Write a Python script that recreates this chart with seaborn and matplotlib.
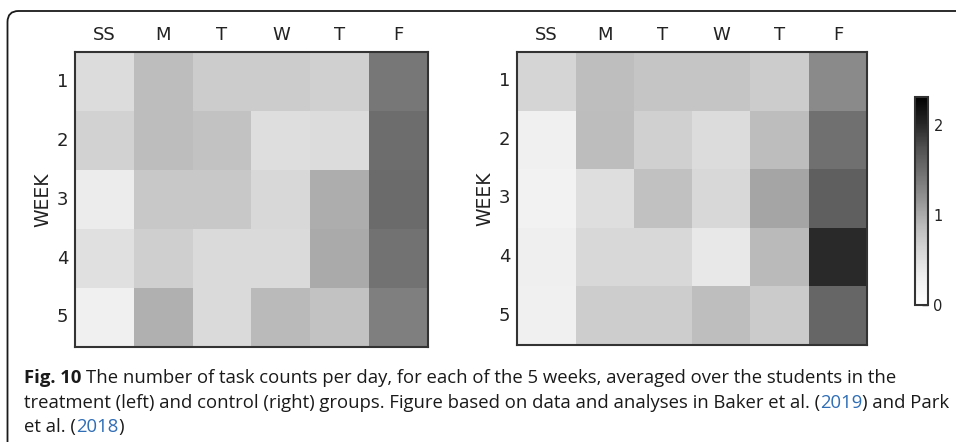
import numpy as np
import matplotlib
matplotlib.use("Agg")
import matplotlib.pyplot as plt
import seaborn as sns
from matplotlib.patches import FancyBboxPatch

# ---- data -------------------------------------------------------------
days = ["SS", "M", "T", "W", "T", "F"]
weeks = [1, 2, 3, 4, 5]

# mean task counts per day (rows: weeks 1-5, columns: days)
treatment_counts = [
    [0.54, 0.87, 0.72, 0.72, 0.67, 1.41],
    [0.65, 0.87, 0.82, 0.52, 0.54, 1.49],
    [0.34, 0.75, 0.75, 0.59, 0.99, 1.51],
    [0.49, 0.68, 0.57, 0.57, 1.01, 1.45],
    [0.29, 0.96, 0.57, 0.89, 0.82, 1.34],
]
control_counts = [
    [0.62, 0.86, 0.79, 0.79, 0.72, 1.25],
    [0.29, 0.87, 0.67, 0.54, 0.87, 1.47],
    [0.25, 0.52, 0.83, 0.59, 1.04, 1.62],
    [0.30, 0.59, 0.59, 0.39, 0.89, 1.99],
    [0.29, 0.70, 0.70, 0.86, 0.73, 1.56],
]
cbar_ticks = [0, 1, 2]
vmin, vmax = 0.0, 2.31

caption_lines = [
    [("Fig. 10", "bold", "#1a1a1a"),
     (" ", "normal", "#1a1a1a"),
     ("The number of task counts per day, for each of the 5 weeks, averaged over the students in the",
      "normal", "#1a1a1a")],
    [("treatment (left) and control (right) groups. Figure based on data and analyses in Baker et al. (",
      "normal", "#1a1a1a"),
     ("2019", "normal", "#2f6db5"),
     (") and Park", "normal", "#1a1a1a")],
    [("et al. (", "normal", "#1a1a1a"),
     ("2018", "normal", "#2f6db5"),
     (")", "normal", "#1a1a1a")],
]

# ---- figure -------------------------------------------------------------
sns.set_style("white")
plt.rcParams["font.family"] = ["DejaVu Sans"]

W, H = 956, 442
fig = plt.figure(figsize=(W / 100, H / 100), dpi=100)

ax_l = fig.add_axes([0.0785, 0.215, 0.369, 0.667])
ax_r = fig.add_axes([0.541, 0.2195, 0.366, 0.663])
cax = fig.add_axes([0.957, 0.310, 0.0136, 0.471])

text_col = "#222222"
line_col = "#333333"

sns.heatmap(np.array(treatment_counts), ax=ax_l, cmap="Greys", vmin=vmin, vmax=vmax,
            xticklabels=days, yticklabels=weeks, cbar=False)
sns.heatmap(np.array(control_counts), ax=ax_r, cmap="Greys", vmin=vmin, vmax=vmax,
            xticklabels=days, yticklabels=weeks, cbar=True, cbar_ax=cax)

for ax in (ax_l, ax_r):
    ax.xaxis.tick_top()
    ax.tick_params(axis="both", which="major", direction="in", length=5, width=1,
                   color=line_col, top=True, bottom=True, left=True, right=True,
                   labeltop=True, labelbottom=False, labelleft=True, labelright=False,
                   labelsize=13, labelcolor=text_col)
    ax.tick_params(axis="x", pad=6)
    ax.tick_params(axis="y", pad=5)
    ax.set_yticklabels(weeks, rotation=0)
    ax.set_xticklabels(days, rotation=0)
    for sp in ax.spines.values():
        sp.set_visible(True)
        sp.set_linewidth(1.5)
        sp.set_color(line_col)
    ax.set_xlabel("")
    ax.set_ylabel("WEEK", fontsize=13.5, color=text_col, labelpad=3)

cbar = ax_r.collections[0].colorbar
cbar.set_ticks(cbar_ticks)
cbar.ax.tick_params(direction="in", length=4, width=1, color=line_col,
                    labelsize=10.5, labelcolor=text_col, pad=4)
cbar.outline.set_visible(True)
cbar.outline.set_linewidth(1.5)
cbar.outline.set_edgecolor(line_col)

# ---- rounded frame ------------------------------------------------------
frame = FancyBboxPatch((7.5, -30), 1100, 431 + 30,
                       boxstyle="round,pad=0,rounding_size=11",
                       fill=False, lw=1.3, ec="#1a1a1a")
frame.set_transform(None)
fig.patches.append(frame)

# ---- caption ------------------------------------------------------------
cap_family = ["Open Sans", "DejaVu Sans"]
cap_size = 13.3
renderer = fig.canvas.get_renderer()


def text_width(s, weight):
    t = fig.text(0, 0, s, fontsize=cap_size, fontweight=weight, family=cap_family)
    w = t.get_window_extent(renderer).width
    t.remove()
    return w


space_w = text_width("x x", "normal") - text_width("xx", "normal")

baselines = [383, 408, 432]
for pieces, base in zip(caption_lines, baselines):
    x = 24.0
    for s, weight, color in pieces:
        if s == " ":
            x += space_w
            continue
        lead = len(s) - len(s.lstrip(" "))
        x += lead * space_w
        t = fig.text(x / W, 1 - base / H, s.strip(" "), fontsize=cap_size,
                     fontweight=weight, color=color, family=cap_family,
                     ha="left", va="baseline")
        bb = t.get_window_extent(renderer)
        x = bb.x1
        trail = len(s) - len(s.rstrip(" "))
        x += trail * space_w

fig.savefig("out.png", dpi=100)
